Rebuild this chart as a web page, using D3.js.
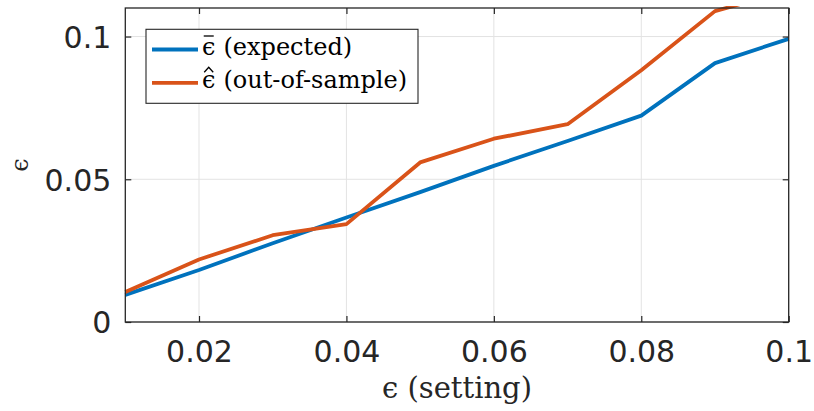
<!DOCTYPE html>
<html>
<head>
<meta charset="utf-8">
<script src="https://cdn.jsdelivr.net/npm/d3@7"></script>
<style>
  html, body { margin: 0; padding: 0; background: #fff; }
  svg { display: block; }
</style>
</head>
<body>
<svg id="chart" width="814" height="411"></svg>
<script>
// Risk level setting vs. expected and out-of-sample violation probability
const settings = [0.01, 0.02, 0.03, 0.04, 0.05, 0.06, 0.07, 0.08, 0.09, 0.10];
const expected = [0.0095, 0.0182, 0.0276, 0.0366, 0.0455, 0.0547, 0.0634, 0.0723, 0.0907, 0.0992];
const outOfSample = [0.0105, 0.0219, 0.0304, 0.0343, 0.0559, 0.0642, 0.0693, 0.0882, 0.1089, 0.1161];
const xTicks = [0.02, 0.04, 0.06, 0.08, 0.1];
const xTickLabels = ["0.02", "0.04", "0.06", "0.08", "0.1"];
const yTicks = [0, 0.05, 0.1];
const yTickLabels = ["0", "0.05", "0.1"];
const seriesNames = ["(expected)", "(out-of-sample)"];
const seriesAccents = ["bar", "hat"];
const seriesColors = ["#0072BD", "#D95319"];

const svg = d3.select("#chart");
const plot = { left: 125.3, right: 788.7, top: 8, bottom: 322 };
const axisColor = "#262626";
const serif = "DejaVu Serif";
const EPS = "\u03F5";

const x = d3.scaleLinear().domain([0.01, 0.1]).range([plot.left, plot.right]);
const y = d3.scaleLinear().domain([0, 0.11]).range([plot.bottom, plot.top]);

// clip region for the data lines
svg.append("defs").append("clipPath").attr("id", "plotClip")
  .append("rect")
  .attr("x", plot.left - 2).attr("y", plot.top - 2)
  .attr("width", plot.right - plot.left + 4).attr("height", plot.bottom - plot.top + 4);

// grid
const grid = svg.append("g").attr("stroke", "#e3e3e3").attr("stroke-width", 1);
grid.selectAll(".gx").data(xTicks).join("line")
  .attr("x1", d => x(d)).attr("x2", d => x(d))
  .attr("y1", plot.top).attr("y2", plot.bottom);
grid.selectAll(".gy").data(yTicks).join("line")
  .attr("x1", plot.left).attr("x2", plot.right)
  .attr("y1", d => y(d)).attr("y2", d => y(d));

// series lines
const line = (vals) => d3.line().x((d, i) => x(settings[i])).y(d => y(d))(vals);
const lines = svg.append("g").attr("clip-path", "url(#plotClip)");
[expected, outOfSample].forEach((vals, k) => {
  lines.append("path")
    .attr("d", line(vals))
    .attr("fill", "none")
    .attr("stroke", seriesColors[k])
    .attr("stroke-width", 3.8)
    .attr("stroke-linejoin", "round");
});

// axes with inward ticks on all four sides
const tickLen = 6;
const bottomAxis = d3.axisBottom(x).tickValues(xTicks).tickFormat((d, i) => xTickLabels[i])
  .tickSizeInner(-tickLen).tickSizeOuter(0);
const topAxis = d3.axisTop(x).tickValues(xTicks).tickFormat("")
  .tickSizeInner(-tickLen).tickSizeOuter(0);
const leftAxis = d3.axisLeft(y).tickValues(yTicks).tickFormat((d, i) => yTickLabels[i])
  .tickSizeInner(-tickLen).tickSizeOuter(0).tickPadding(14);
const rightAxis = d3.axisRight(y).tickValues(yTicks).tickFormat("")
  .tickSizeInner(-tickLen).tickSizeOuter(0);

function styleAxis(g) {
  g.select(".domain").remove();
  g.selectAll(".tick line").attr("stroke", axisColor).attr("stroke-width", 1.2);
  g.selectAll(".tick text").attr("fill", axisColor)
    .attr("font-family", "DejaVu Sans").attr("font-size", 30);
}
svg.append("g").attr("transform", `translate(0,${plot.bottom})`).call(bottomAxis).call(styleAxis)
  .selectAll(".tick text").attr("dy", null).attr("y", 40);
svg.append("g").attr("transform", `translate(0,${plot.top})`).call(topAxis).call(styleAxis);
svg.append("g").attr("transform", `translate(${plot.left},0)`).call(leftAxis).call(styleAxis)
  .selectAll(".tick text").attr("dy", "0.36em");
svg.append("g").attr("transform", `translate(${plot.right},0)`).call(rightAxis).call(styleAxis);

// axes box
svg.append("rect")
  .attr("x", plot.left).attr("y", plot.top)
  .attr("width", plot.right - plot.left).attr("height", plot.bottom - plot.top)
  .attr("fill", "none").attr("stroke", axisColor).attr("stroke-width", 1.3);

// axis labels
svg.append("text")
  .attr("x", (plot.left + plot.right) / 2).attr("y", 398)
  .attr("text-anchor", "middle")
  .attr("font-family", serif).attr("font-size", 29)
  .attr("fill", axisColor)
  .text(EPS + " (setting)");
svg.append("text")
  .attr("transform", `translate(28,${(plot.top + plot.bottom) / 2}) rotate(-90)`)
  .attr("text-anchor", "middle")
  .attr("font-family", serif).attr("font-size", 24)
  .attr("fill", axisColor)
  .text(EPS);

// legend
const legend = svg.append("g");
legend.append("rect")
  .attr("x", 146).attr("y", 29.3).attr("width", 272).attr("height", 74)
  .attr("fill", "#fff").attr("stroke", axisColor).attr("stroke-width", 1.1);
seriesNames.forEach((name, k) => {
  const ly = 49.5 + k * 33.3;
  const base = ly + 5.5;
  legend.append("line")
    .attr("x1", 152).attr("x2", 198).attr("y1", ly).attr("y2", ly)
    .attr("stroke", seriesColors[k]).attr("stroke-width", 3.8);
  const eps = legend.append("text")
    .attr("x", 202).attr("y", base)
    .attr("font-family", serif).attr("font-size", 24)
    .attr("fill", "#000")
    .text(EPS);
  const bb = eps.node().getBBox();
  const cx = bb.x + bb.width / 2;
  // accent above the epsilon
  if (seriesAccents[k] === "bar") {
    legend.append("line")
      .attr("x1", cx - 5).attr("x2", cx + 5)
      .attr("y1", base - 19).attr("y2", base - 19)
      .attr("stroke", "#000").attr("stroke-width", 1.3);
  } else {
    legend.append("path")
      .attr("d", `M${cx - 4.5},${base - 16} L${cx},${base - 21} L${cx + 4.5},${base - 16}`)
      .attr("fill", "none").attr("stroke", "#000").attr("stroke-width", 1.3);
  }
  legend.append("text")
    .attr("x", bb.x + bb.width + 8).attr("y", base)
    .attr("font-family", serif).attr("font-size", 24)
    .attr("fill", "#000")
    .text(name);
});
</script>
</body>
</html>
